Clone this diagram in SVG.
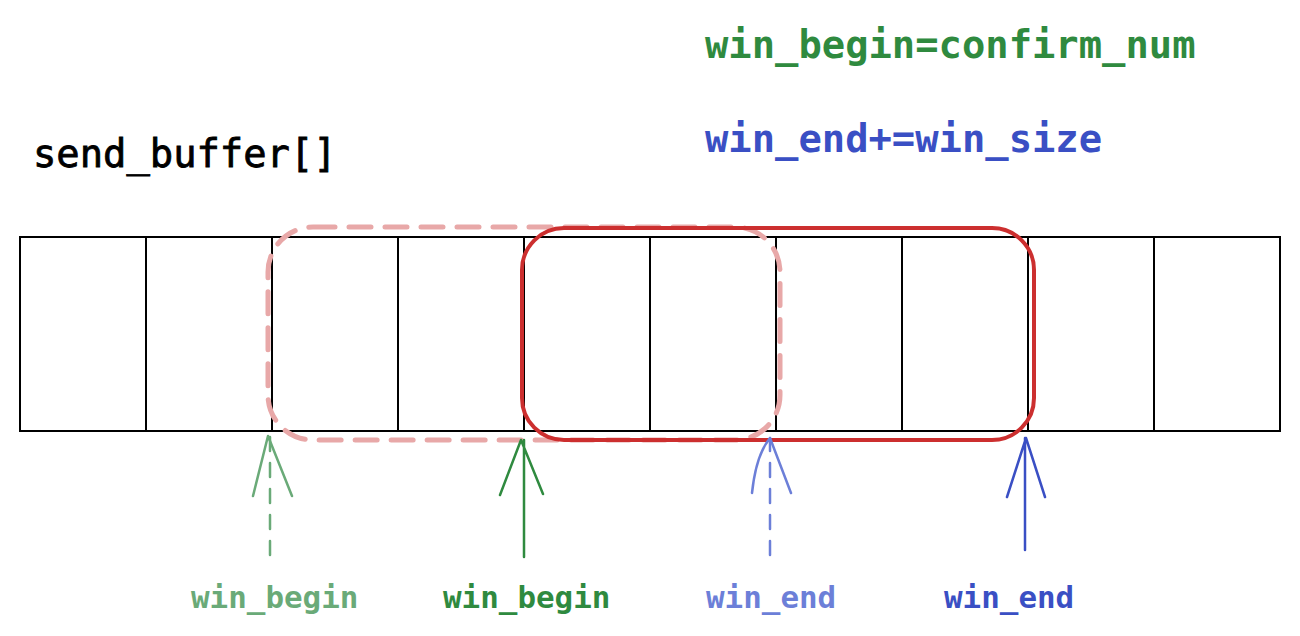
<svg xmlns="http://www.w3.org/2000/svg" width="1300" height="636" viewBox="0 0 1300 636">
<style>
.mono{font-family:"DejaVu Sans Mono","Liberation Mono",monospace;font-weight:bold}
.plain{font-family:"DejaVu Sans Mono","Liberation Mono",monospace;font-weight:normal}
.cell{fill:none;stroke:#000;stroke-width:2}
.arr{fill:none;stroke-width:2.5;stroke-linecap:round;stroke-linejoin:round}
</style>
<rect width="1300" height="636" fill="#fff"/>
<text class="plain" x="33" y="167" font-size="38.8" fill="#000" stroke="#000" stroke-width="0.8">send_buffer[]</text>
<text class="mono" x="705" y="58" font-size="38.8" fill="#2f8a3f">win_begin=confirm_num</text>
<text class="mono" x="705" y="152" font-size="38.8" fill="#3a4fc4">win_end+=win_size</text>
<g id="buffer">
<rect class="cell" x="20" y="237" width="1260" height="194"/>
<path class="cell" d="M146 237V431M272 237V431M398 237V431M524 237V431M650 237V431M776 237V431M902 237V431M1028 237V431M1154 237V431"/>
</g>
<g id="old_window">
<rect x="268" y="227" width="512" height="213" rx="45" fill="none" stroke="#e8a8a8" stroke-width="5" stroke-dasharray="22,14" stroke-linecap="round"/>
</g>
<g id="new_window">
<rect x="522" y="228" width="512" height="212" rx="42" fill="none" stroke="#cc2f2f" stroke-width="4"/>
</g>
<g id="connectors">
<path class="arr" stroke="#6aaa78" d="M270 555V436" stroke-dasharray="14,12"/>
<path class="arr" stroke="#6aaa78" d="M253 496L268 436L292 496"/>
<path class="arr" stroke="#2f8a3f" d="M524 557V440M500 495L521 440L543 494"/>
<path class="arr" stroke="#6c7fd8" d="M770 555V438" stroke-dasharray="14,12"/>
<path class="arr" stroke="#6c7fd8" d="M752 493Q756 455 770 438L791 493"/>
<path class="arr" stroke="#3a4fc4" d="M1025 550V438M1007 497L1026 438L1045 497"/>
</g>
<g id="labels">
<text class="mono" x="191" y="608" font-size="30.9" fill="#6aaa78">win_begin</text>
<text class="mono" x="443" y="608" font-size="30.9" fill="#2f8a3f">win_begin</text>
<text class="mono" x="706" y="608" font-size="30.9" fill="#6c7fd8">win_end</text>
<text class="mono" x="944" y="608" font-size="30.9" fill="#3a4fc4">win_end</text>
</g>
</svg>
